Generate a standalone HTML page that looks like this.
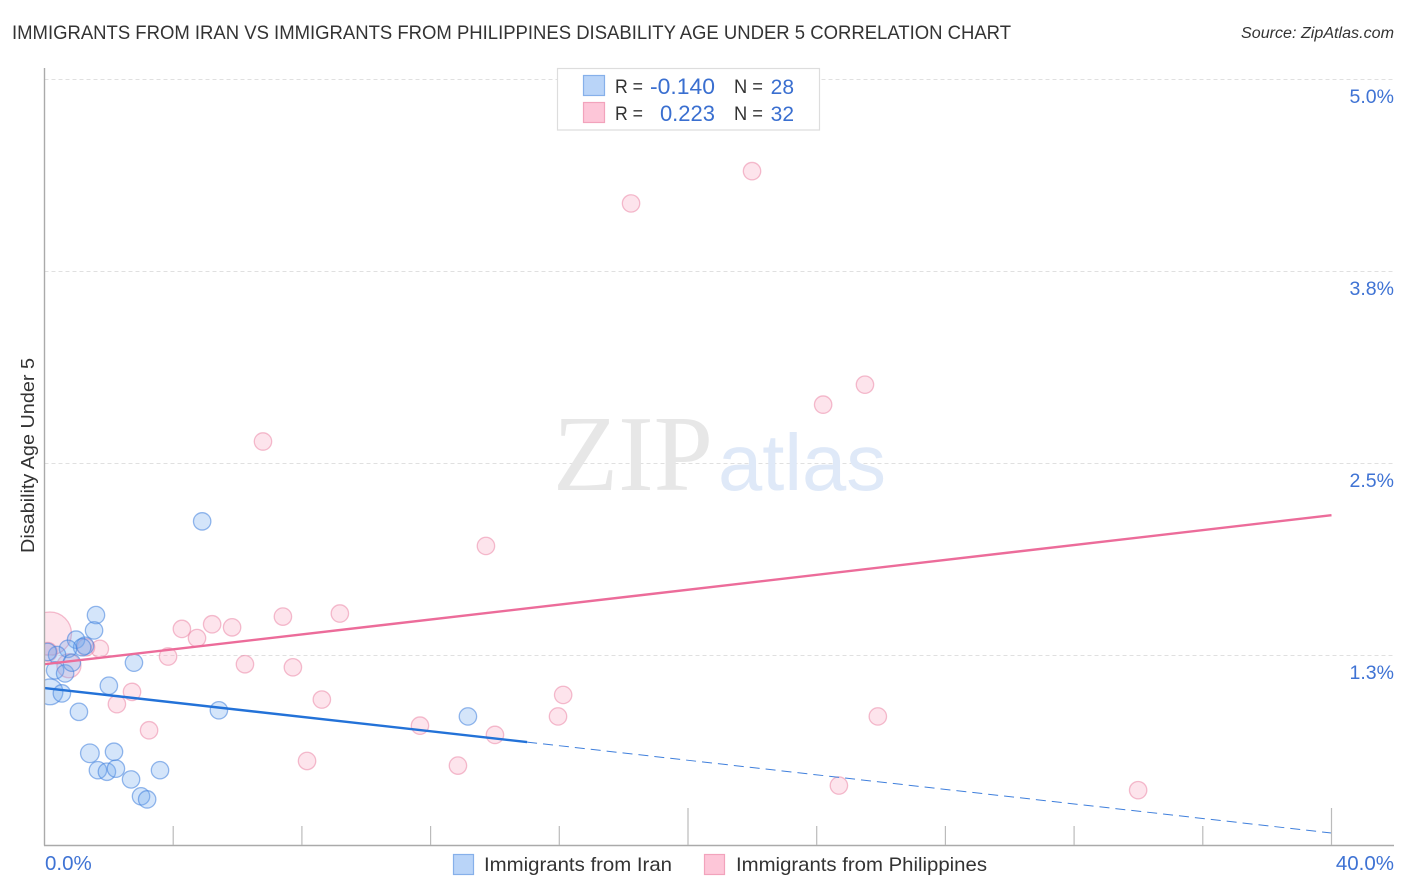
<!DOCTYPE html>
<html lang="en">
<head>
<meta charset="utf-8">
<title>Immigrants from Iran vs Immigrants from Philippines Disability Age Under 5 Correlation Chart</title>
<style>
html,body{margin:0;padding:0;background:#fff;}
svg{display:block;font-family:"Liberation Sans",sans-serif;}
</style>
</head>
<body>
<svg id="chart" xmlns="http://www.w3.org/2000/svg" width="1406" height="892" viewBox="0 0 1406 892">
  <rect x="0" y="0" width="1406" height="892" fill="#fff"/>
  <text x="12" y="39" font-size="19.5" fill="#333" textLength="999" lengthAdjust="spacingAndGlyphs">IMMIGRANTS FROM IRAN VS IMMIGRANTS FROM PHILIPPINES DISABILITY AGE UNDER 5 CORRELATION CHART</text>
  <text x="1241" y="38" font-size="15.5" font-style="italic" fill="#333" textLength="153" lengthAdjust="spacingAndGlyphs">Source: ZipAtlas.com</text>
  <g id="grid"></g>
  <text x="553" y="490" font-family="'Liberation Serif',serif" font-size="108" fill="#e7e7e7" textLength="160" lengthAdjust="spacingAndGlyphs">ZIP</text>
  <text x="718" y="490" font-family="'Liberation Sans',sans-serif" font-size="80" fill="#dfe9f8" textLength="168" lengthAdjust="spacingAndGlyphs">atlas</text>
  <g id="points"></g>
  <rect x="0" y="590" width="44.5" height="140" fill="#fff"/>
  <g id="trends"></g>
  <g id="axes"></g>
  <g id="labels"></g>
  <text transform="translate(34 553) rotate(-90)" font-size="18" fill="#333" textLength="195" lengthAdjust="spacingAndGlyphs">Disability Age Under 5</text>

  <g>
    <rect x="557.5" y="68.5" width="262" height="61.5" fill="#fff" stroke="#ddd" stroke-width="1.2"/>
    <rect x="583.5" y="75.5" width="21" height="20" fill="#b9d4f8" stroke="#86b0ea" stroke-width="1.2"/>
    <rect x="583.5" y="102.5" width="21" height="20" fill="#fdc6d8" stroke="#f2a3bc" stroke-width="1.2"/>
    <text x="615" y="93" font-size="19.5" fill="#333" textLength="28" lengthAdjust="spacingAndGlyphs">R =</text>
    <text x="650" y="94" font-size="22" fill="#3a6fd0" textLength="65" lengthAdjust="spacingAndGlyphs">-0.140</text>
    <text x="734" y="93" font-size="19.5" fill="#333" textLength="29" lengthAdjust="spacingAndGlyphs">N =</text>
    <text x="794" y="94" font-size="21" fill="#3a6fd0" text-anchor="end">28</text>
    <text x="615" y="120" font-size="19.5" fill="#333" textLength="28" lengthAdjust="spacingAndGlyphs">R =</text>
    <text x="715" y="121" font-size="22" fill="#3a6fd0" text-anchor="end">0.223</text>
    <text x="734" y="120" font-size="19.5" fill="#333" textLength="29" lengthAdjust="spacingAndGlyphs">N =</text>
    <text x="794" y="121" font-size="21" fill="#3a6fd0" text-anchor="end">32</text>
  </g>

  <g>
    <rect x="453.5" y="854.5" width="20" height="20" fill="#b9d4f8" stroke="#86b0ea" stroke-width="1.2"/>
    <text x="484" y="871" font-size="19.5" fill="#333" textLength="188" lengthAdjust="spacingAndGlyphs">Immigrants from Iran</text>
    <rect x="704.5" y="854.5" width="20" height="20" fill="#fdc6d8" stroke="#f2a3bc" stroke-width="1.2"/>
    <text x="736" y="871" font-size="19.5" fill="#333" textLength="251" lengthAdjust="spacingAndGlyphs">Immigrants from Philippines</text>
  </g>
</svg>
<script>
// Chart data (percent values)
const iranX = [4.90,1.60,1.54,0.98,1.26,1.17,0.73,0.39,0.10,0.33,0.64,0.85,2.78,2.00,0.17,0.54,1.07,5.42,13.16,1.41,2.16,1.66,1.94,2.22,3.59,2.69,3.00,3.19];
const iranY = [2.12,1.51,1.41,1.35,1.31,1.30,1.29,1.25,1.27,1.15,1.13,1.20,1.20,1.05,1.01,1.00,0.88,0.89,0.85,0.61,0.62,0.50,0.49,0.51,0.50,0.44,0.33,0.31];
const iranWeight = [1,1,1,1,1,1,1,1,1,1,1,1,1,1,2.2,1,1,1,1,1.15,1,1,1,1,1,1,1,1];
const philX = [18.23,21.99,25.50,24.20,6.79,13.72,9.18,7.41,5.21,5.83,4.27,4.74,3.84,6.23,7.72,1.72,1.29,0.76,8.62,2.72,2.25,3.25,16.12,15.96,11.67,14.00,25.90,8.16,12.85,24.69,33.99,0.17,0.10];
const philY = [4.19,4.40,3.01,2.88,2.64,1.96,1.52,1.50,1.45,1.43,1.42,1.36,1.24,1.19,1.17,1.29,1.30,1.18,0.96,1.01,0.93,0.76,0.99,0.85,0.79,0.73,0.85,0.56,0.53,0.40,0.37,1.39,1.27];
const philWeight = [1,1,1,1,1,1,1,1,1,1,1,1,1,1,1,1,1,1.9,1,1,1,1,1,1,1,1,1,1,1,1,1,6.1,1.2];
const iranTrendX = [0, 15, 40];
const iranTrendY = [1.035, 0.683, 0.091];
const philTrendX = [0, 40];
const philTrendY = [1.19, 2.16];
const yTicks = [5, 3.75, 2.5, 1.25];
const yTickLabels = ["5.0%", "3.8%", "2.5%", "1.3%"];
const xTicks = [0, 4, 8, 12, 16, 20, 24, 28, 32, 36, 40];
const xMajorTicks = [20, 40];

// Axis functions
const NS = "http://www.w3.org/2000/svg";
function xScale(v) { return 44.5 + v * 32.175; }
function yScale(v) { return 79 + (5 - v) * 153.6; }
function rScale(w) { return 8.7 * Math.sqrt(w); }
function make(tag, attrs, parent) {
  const el = document.createElementNS(NS, tag);
  for (const k in attrs) el.setAttribute(k, attrs[k]);
  parent.appendChild(el);
  return el;
}

const gridGroup = document.getElementById("grid");
const axesGroup = document.getElementById("axes");
const labelGroup = document.getElementById("labels");
const pointGroup = document.getElementById("points");
const trendGroup = document.getElementById("trends");

yTicks.forEach(function (t, i) {
  const line = make("line", {x1: 44.5, x2: 1394, y1: yScale(t) + 0.5, y2: yScale(t) + 0.5, stroke: "#e0e0e0", "stroke-width": 1, "stroke-dasharray": "4 3"}, gridGroup);
  
  
  const label = make("text", {x: 1394, y: yScale(t) + 24, "font-size": 19.5, fill: "#3f73d4", "text-anchor": "end"}, labelGroup);
  label.textContent = yTickLabels[i];
  
  
});

const yAxis = make("line", {x1: 44.5, x2: 44.5, y1: 68, y2: 845.5, stroke: "#aaa", "stroke-width": 1.4}, axesGroup);


const xAxis = make("line", {x1: 44, x2: 1394, y1: 845.5, y2: 845.5, stroke: "#aaa", "stroke-width": 1.4}, axesGroup);



xTicks.slice(1).forEach(function (t) {
  const top = xMajorTicks.indexOf(t) >= 0 ? 808 : 826;
  const tick = make("line", {x1: xScale(t), x2: xScale(t), y1: top, y2: 845, stroke: "#bbb", "stroke-width": 1.2}, axesGroup);
  
  
});

const xLabelMin = make("text", {x: 45, y: 870, "font-size": 20.5, fill: "#3f73d4"}, labelGroup);
xLabelMin.textContent = xTicks[0].toFixed(1) + "%";


const xLabelMax = make("text", {x: 1394, y: 870, "font-size": 20.5, fill: "#3f73d4", "text-anchor": "end"}, labelGroup);
xLabelMax.textContent = xTicks[xTicks.length - 1].toFixed(1) + "%";



philX.forEach(function (v, i) {
  const c = make("circle", {cx: xScale(v), cy: yScale(philY[i]), r: rScale(philWeight[i]), fill: "#f8a5bf", "fill-opacity": 0.3, stroke: "#ea7ea0", "stroke-opacity": 0.5, "stroke-width": 1.3}, pointGroup);
  
  
});
iranX.forEach(function (v, i) {
  const c = make("circle", {cx: xScale(v), cy: yScale(iranY[i]), r: rScale(iranWeight[i]), fill: "#70a8ee", "fill-opacity": 0.3, stroke: "#3f7fdc", "stroke-opacity": 0.55, "stroke-width": 1.3}, pointGroup);
  
  
});

const philTrend = make("line", {x1: xScale(philTrendX[0]), y1: yScale(philTrendY[0]), x2: xScale(philTrendX[1]), y2: yScale(philTrendY[1]), stroke: "#ec6c9a", "stroke-width": 2.4}, trendGroup);


const iranTrend = make("line", {x1: xScale(iranTrendX[0]), y1: yScale(iranTrendY[0]), x2: xScale(iranTrendX[1]), y2: yScale(iranTrendY[1]), stroke: "#2372d8", "stroke-width": 2.4}, trendGroup);


const iranDash = make("line", {x1: xScale(iranTrendX[1]), y1: yScale(iranTrendY[1]), x2: xScale(iranTrendX[2]), y2: yScale(iranTrendY[2]), stroke: "#3f7fdc", "stroke-width": 1, "stroke-dasharray": "10 6"}, trendGroup);


</script>
</body>
</html>
